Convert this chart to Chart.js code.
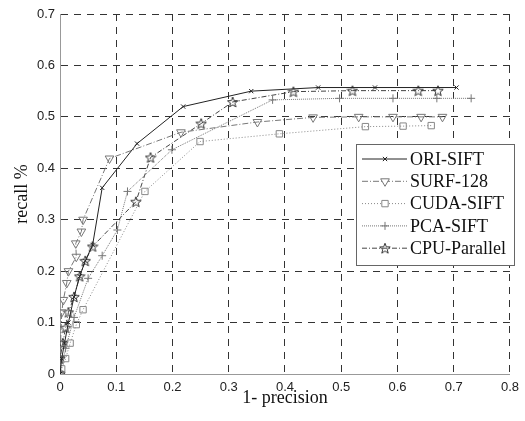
<!DOCTYPE html>
<html lang="en">
<head>
    <meta charset="UTF-8">
    <title>Recall vs 1-precision</title>
    <script src="https://cdn.jsdelivr.net/npm/chart.js"></script>
    <style>
        body { margin: 0; background: #fff; }
        #wrap { width: 525px; height: 421px; }
    </style>
</head>
<body>
    <div id="wrap"><canvas id="prChart"></canvas></div>
    <script>
        // values
        const xTicks = [0, 0.1, 0.2, 0.3, 0.4, 0.5, 0.6, 0.7, 0.8];
        const yTicks = [0, 0.1, 0.2, 0.3, 0.4, 0.5, 0.6, 0.7];

        const oriX = [0, 0.003, 0.008, 0.015, 0.025, 0.035, 0.045, 0.058, 0.075, 0.137, 0.219, 0.34, 0.459, 0.56, 0.705];
        const oriY = [0, 0.03, 0.06, 0.1, 0.15, 0.19, 0.22, 0.251, 0.362, 0.448, 0.52, 0.55, 0.557, 0.557, 0.557];

        const surfX = [0, 0, 0.001, 0.003, 0.006, 0.012, 0.015, 0.029, 0.028, 0.038, 0.041, 0.088, 0.215, 0.351, 0.45, 0.531, 0.592, 0.642, 0.68];
        const surfY = [0, 0.03, 0.06, 0.12, 0.144, 0.177, 0.2, 0.228, 0.254, 0.277, 0.3, 0.419, 0.47, 0.49, 0.499, 0.5, 0.5, 0.5, 0.5];

        const cudaX = [0, 0.003, 0.01, 0.018, 0.029, 0.041, 0.151, 0.249, 0.39, 0.543, 0.61, 0.66];
        const cudaY = [0, 0.01, 0.03, 0.06, 0.096, 0.125, 0.355, 0.452, 0.467, 0.481, 0.482, 0.483];

        const pcaX = [0, 0.01, 0.025, 0.05, 0.075, 0.102, 0.12, 0.199, 0.378, 0.497, 0.592, 0.67, 0.731];
        const pcaY = [0, 0.05, 0.11, 0.186, 0.23, 0.28, 0.355, 0.436, 0.533, 0.536, 0.536, 0.536, 0.536];

        const cpuX = [0, 0, 0.005, 0.01, 0.015, 0.025, 0.035, 0.045, 0.058, 0.135, 0.161, 0.251, 0.307, 0.415, 0.52, 0.637, 0.672];
        const cpuY = [0, 0.03, 0.06, 0.09, 0.12, 0.15, 0.19, 0.22, 0.248, 0.335, 0.421, 0.487, 0.529, 0.549, 0.551, 0.551, 0.551];

        const toPoints = (xs, ys) => xs.map((x, i) => ({ x: x, y: ys[i] }));

        // hollow five-pointed star marker (Chart.js 'star' is an asterisk)
        function makeStar(color) {
            const c = document.createElement('canvas');
            c.width = 12; c.height = 12;
            const g = c.getContext('2d');
            g.strokeStyle = color;
            g.lineWidth = 1;
            g.beginPath();
            for (let k = 0; k < 10; k++) {
                const r = k % 2 === 0 ? 5.5 : 2.3;
                const a = -Math.PI / 2 + k * Math.PI / 5;
                const px = 6 + r * Math.cos(a), py = 6.5 + r * Math.sin(a);
                if (k === 0) g.moveTo(px, py); else g.lineTo(px, py);
            }
            g.closePath();
            g.stroke();
            return c;
        }

        function series(label, xs, ys, color, dash, style, radius, rotation) {
            return {
                label: label,
                data: toPoints(xs, ys),
                borderColor: color,
                backgroundColor: 'rgba(255,255,255,0)',
                borderWidth: 1,
                borderDash: dash,
                pointStyle: style,
                pointRadius: radius,
                pointRotation: rotation || 0,
                pointBorderColor: color,
                pointBackgroundColor: 'rgba(255,255,255,0)',
                pointBorderWidth: 1,
                tension: 0,
                fill: false
            };
        }

        const datasets = [
            series('ORI-SIFT', oriX, oriY, '#222', [], 'crossRot', 3),
            series('SURF-128', surfX, surfY, '#777', [6, 2, 1, 2], 'triangle', 5, 180),
            series('CUDA-SIFT', cudaX, cudaY, '#888', [1, 2], 'rect', 4.5),
            series('PCA-SIFT', pcaX, pcaY, '#777', [1, 1], 'cross', 4),
            series('CPU-Parallel', cpuX, cpuY, '#444', [5, 2, 1, 2], makeStar('#333'), 5)
        ];

        // legend box drawn inside the plot area, like the original figure
        const insideLegend = {
            id: 'insideLegend',
            afterDraw(chart) {
                const ctx = chart.ctx;
                const left = 356, top = 144, right = 514, bottom = 265;
                ctx.save();
                ctx.fillStyle = '#fff';
                ctx.fillRect(left, top, right - left, bottom - top);
                ctx.strokeStyle = '#666';
                ctx.lineWidth = 1;
                ctx.strokeRect(left + 0.5, top + 0.5, right - left, bottom - top);
                ctx.font = '18px "Liberation Serif", "Times New Roman", serif';
                ctx.textBaseline = 'middle';
                chart.data.datasets.forEach((ds, i) => {
                    const y = 159 + i * 22.3;
                    ctx.strokeStyle = ds.borderColor;
                    ctx.setLineDash(ds.borderDash);
                    ctx.beginPath();
                    ctx.moveTo(362, y);
                    ctx.lineTo(407, y);
                    ctx.stroke();
                    ctx.setLineDash([]);
                    ctx.fillStyle = '#fff';
                    ctx.strokeStyle = ds.pointBorderColor;
                    Chart.helpers.drawPoint(ctx, {
                        pointStyle: ds.pointStyle,
                        radius: ds.pointRadius,
                        rotation: ds.pointRotation,
                        borderWidth: 1
                    }, 385, y);
                    ctx.fillStyle = '#111';
                    ctx.fillText(ds.label, 410, y + 1);
                });
                ctx.restore();
            }
        };

        const tickFont = { family: '"Liberation Sans", Arial, sans-serif', size: 13 };
        const titleFont = { family: '"Liberation Serif", "Times New Roman", serif', size: 18 };

        new Chart(document.getElementById('prChart'), {
            type: 'line',
            data: { datasets: datasets },
            options: {
                responsive: true,
                maintainAspectRatio: false,
                animation: false,
                layout: { padding: { top: 14, right: 10, left: 0, bottom: 0 } },
                plugins: {
                    legend: { display: false },
                    tooltip: { enabled: false }
                },
                scales: {
                    x: {
                        type: 'linear',
                        min: 0,
                        max: 0.8,
                        afterBuildTicks: (scale) => { scale.ticks = xTicks.map(v => ({ value: v })); },
                        afterFit: (scale) => { scale.height = 47; },
                        ticks: {
                            color: '#222',
                            font: tickFont,
                            padding: 6,
                            maxRotation: 0,
                            callback: (v) => String(+v.toFixed(1))
                        },
                        grid: { color: '#333', lineWidth: 1, drawTicks: false },
                        border: { display: true, color: '#999', width: 1, dash: [7, 6] },
                        title: { display: true, text: '1- precision', color: '#111', font: titleFont, padding: { top: 0, bottom: 12 } }
                    },
                    y: {
                        type: 'linear',
                        min: 0,
                        max: 0.7,
                        afterBuildTicks: (scale) => { scale.ticks = yTicks.map(v => ({ value: v })); },
                        afterFit: (scale) => { scale.width = 60; },
                        ticks: {
                            color: '#222',
                            font: tickFont,
                            padding: 5,
                            callback: (v) => String(+v.toFixed(1))
                        },
                        grid: { color: '#333', lineWidth: 1, drawTicks: false },
                        border: { display: true, color: '#999', width: 1, dash: [7, 6] },
                        title: { display: true, text: 'recall %', color: '#111', font: titleFont, padding: { top: 11, bottom: 0 } }
                    }
                }
            },
            plugins: [insideLegend]
        });
    </script>
</body>
</html>
